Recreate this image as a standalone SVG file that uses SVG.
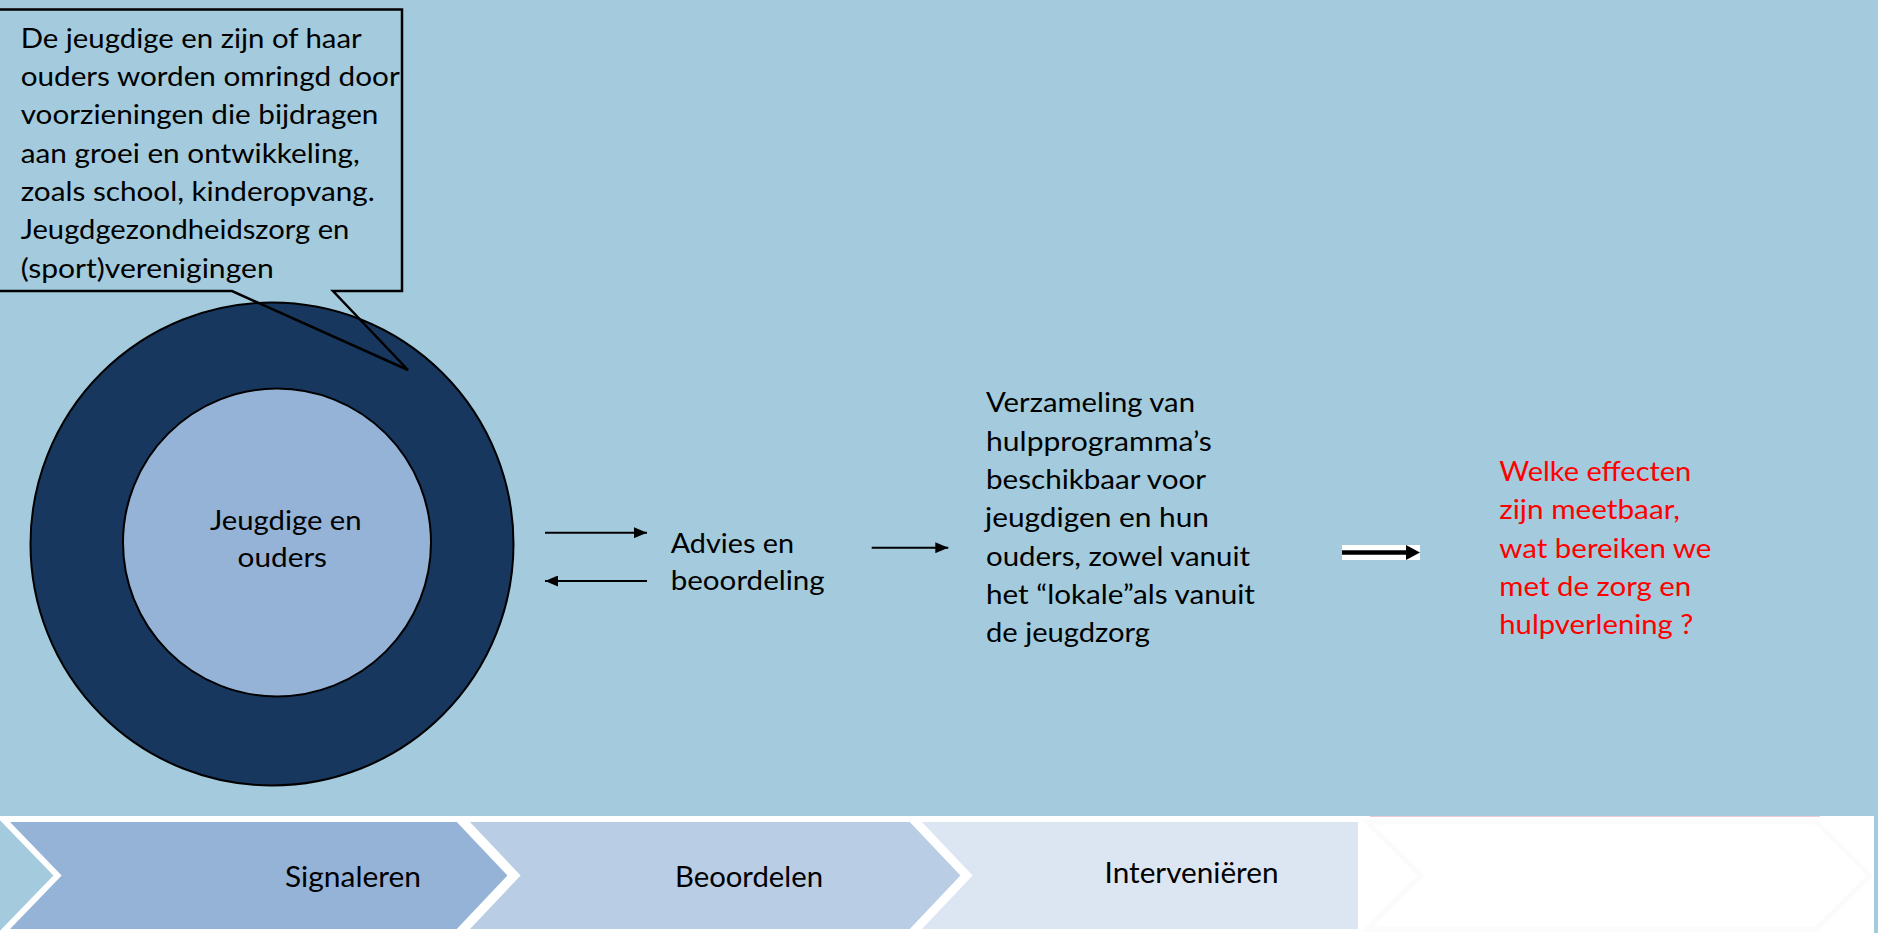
<svg xmlns="http://www.w3.org/2000/svg" width="1878" height="933" viewBox="0 0 1878 933">
  <style>
    .t { font-family: Lato, "Open Sans", "Liberation Sans", sans-serif; font-size: 26px; fill: #000000; }
    .red { fill: #FF0000; }
    .chev-t { font-family: Lato, "Open Sans", "Liberation Sans", sans-serif; font-size: 28px; fill: #000000; }
    .chev { stroke: #FFFFFF; stroke-width: 6; stroke-linejoin: miter; }
    .conn { stroke: #000000; stroke-width: 2; fill: none; }
  </style>
  <defs>
    <marker id="ah" markerUnits="userSpaceOnUse" markerWidth="14" markerHeight="11" refX="13" refY="5.5" orient="auto">
      <path d="M0,0 L13,5.5 L0,11 Z" fill="#000000"/>
    </marker>
  </defs>

  <rect x="0" y="0" width="1878" height="933" fill="#A3CBDD"/>

  <g id="ring-node">
    <circle cx="272" cy="544" r="241.5" fill="#17375E" stroke="#000000" stroke-width="2"/>
    <circle cx="277" cy="542.5" r="154" fill="#95B3D7" stroke="#000000" stroke-width="2"/>
    <text class="t" x="210" y="530" textLength="151.6" lengthAdjust="spacingAndGlyphs">Jeugdige en</text>
    <text class="t" x="237.6" y="567" textLength="89.4" lengthAdjust="spacingAndGlyphs">ouders</text>
  </g>

  <g id="callout">
    <path d="M-3,9.5 L402,9.5 L402,291 L333,291 L408,370 L232,291 L-3,291 Z" fill="none" stroke="#000000" stroke-width="2.5" stroke-linejoin="miter"/>
    <text class="t" x="20.7" y="47.7" textLength="341" lengthAdjust="spacingAndGlyphs">De jeugdige en zijn of haar</text>
    <text class="t" x="20.7" y="86" textLength="379" lengthAdjust="spacingAndGlyphs">ouders worden omringd door</text>
    <text class="t" x="20.7" y="124.3" textLength="357.7" lengthAdjust="spacingAndGlyphs">voorzieningen die bijdragen</text>
    <text class="t" x="20.7" y="162.6" textLength="339" lengthAdjust="spacingAndGlyphs">aan groei en ontwikkeling,</text>
    <text class="t" x="20.7" y="200.9" textLength="354" lengthAdjust="spacingAndGlyphs">zoals school, kinderopvang.</text>
    <text class="t" x="20.7" y="239.2" textLength="328.7" lengthAdjust="spacingAndGlyphs">Jeugdgezondheidszorg en</text>
    <text class="t" x="20.7" y="277.5" textLength="253" lengthAdjust="spacingAndGlyphs">(sport)verenigingen</text>
  </g>

  <g id="advies-node">
    <text class="t" x="670.7" y="552.7" textLength="123.3" lengthAdjust="spacingAndGlyphs">Advies en</text>
    <text class="t" x="670.7" y="590" textLength="154" lengthAdjust="spacingAndGlyphs">beoordeling</text>
  </g>

  <g id="hulpprogramma-node">
    <text class="t" x="986" y="412.3" textLength="209" lengthAdjust="spacingAndGlyphs">Verzameling van</text>
    <text class="t" x="986" y="450.6" textLength="225.7" lengthAdjust="spacingAndGlyphs">hulpprogramma’s</text>
    <text class="t" x="986" y="488.9" textLength="220" lengthAdjust="spacingAndGlyphs">beschikbaar voor</text>
    <text class="t" x="985" y="527.2" textLength="224" lengthAdjust="spacingAndGlyphs">jeugdigen en hun</text>
    <text class="t" x="986" y="565.5" textLength="264" lengthAdjust="spacingAndGlyphs">ouders, zowel vanuit</text>
    <text class="t" x="986" y="603.8" textLength="269" lengthAdjust="spacingAndGlyphs">het “lokale”als vanuit</text>
    <text class="t" x="986" y="642.1" textLength="164" lengthAdjust="spacingAndGlyphs">de jeugdzorg</text>
  </g>

  <g id="effecten-node">
    <text class="t red" x="1499.3" y="481" textLength="192" lengthAdjust="spacingAndGlyphs">Welke effecten</text>
    <text class="t red" x="1499.3" y="519.3" textLength="180.7" lengthAdjust="spacingAndGlyphs">zijn meetbaar,</text>
    <text class="t red" x="1499.3" y="557.6" textLength="212" lengthAdjust="spacingAndGlyphs">wat bereiken we</text>
    <text class="t red" x="1499.3" y="595.9" textLength="192" lengthAdjust="spacingAndGlyphs">met de zorg en</text>
    <text class="t red" x="1499.3" y="634.2" textLength="194" lengthAdjust="spacingAndGlyphs">hulpverlening ?</text>
  </g>

  <g id="connectors">
    <line class="conn" x1="545" y1="532.7" x2="647" y2="532.7" marker-end="url(#ah)"/>
    <line class="conn" x1="647" y1="581" x2="545" y2="581" marker-end="url(#ah)"/>
    <line class="conn" x1="871.7" y1="547.7" x2="948.3" y2="547.7" marker-end="url(#ah)"/>
    <g id="double-arrow">
      <rect x="1342" y="545" width="78" height="15" fill="#FFFFFF"/>
      <line x1="1342" y1="552.5" x2="1407" y2="552.5" stroke="#000000" stroke-width="4.5"/>
      <path d="M1406,545 L1420,552.5 L1406,560 Z" fill="#000000"/>
    </g>
  </g>

  <g id="process-bar">
    <g id="chevron-signaleren">
      <polygon class="chev" points="3,819 458,819 511.5,875.5 458,932 3,932 57.5,875.5" fill="#95B3D7"/>
      <text class="chev-t" x="285" y="887" textLength="136" lengthAdjust="spacingAndGlyphs">Signaleren</text>
    </g>
    <g id="chevron-beoordelen">
      <polygon class="chev" points="463,819 911,819 964.5,875.5 911,932 463,932 516.5,875.5" fill="#B9CDE5"/>
      <text class="chev-t" x="675" y="887" textLength="148" lengthAdjust="spacingAndGlyphs">Beoordelen</text>
    </g>
    <g id="chevron-interveni">
      <polygon class="chev" points="915,819 1400,819 1453.5,875.5 1400,932 915,932 968.5,875.5" fill="#DCE6F2"/>
      <text class="chev-t" x="1104.6" y="883.3" textLength="174" lengthAdjust="spacingAndGlyphs">Interveniëren</text>
    </g>
    <g id="chevron-empty">
      <rect x="1358" y="816" width="516" height="117" fill="#FFFFFF"/>
      <line x1="1370" y1="816.5" x2="1820" y2="816.5" stroke="#EFCBD8" stroke-width="1"/>
      <polygon points="1367,822 1816,822 1870,875.5 1816,929 1367,929 1421,875.5" fill="#FFFFFF" stroke="#FBFBFB" stroke-width="5"/>
    </g>
  </g>
</svg>
